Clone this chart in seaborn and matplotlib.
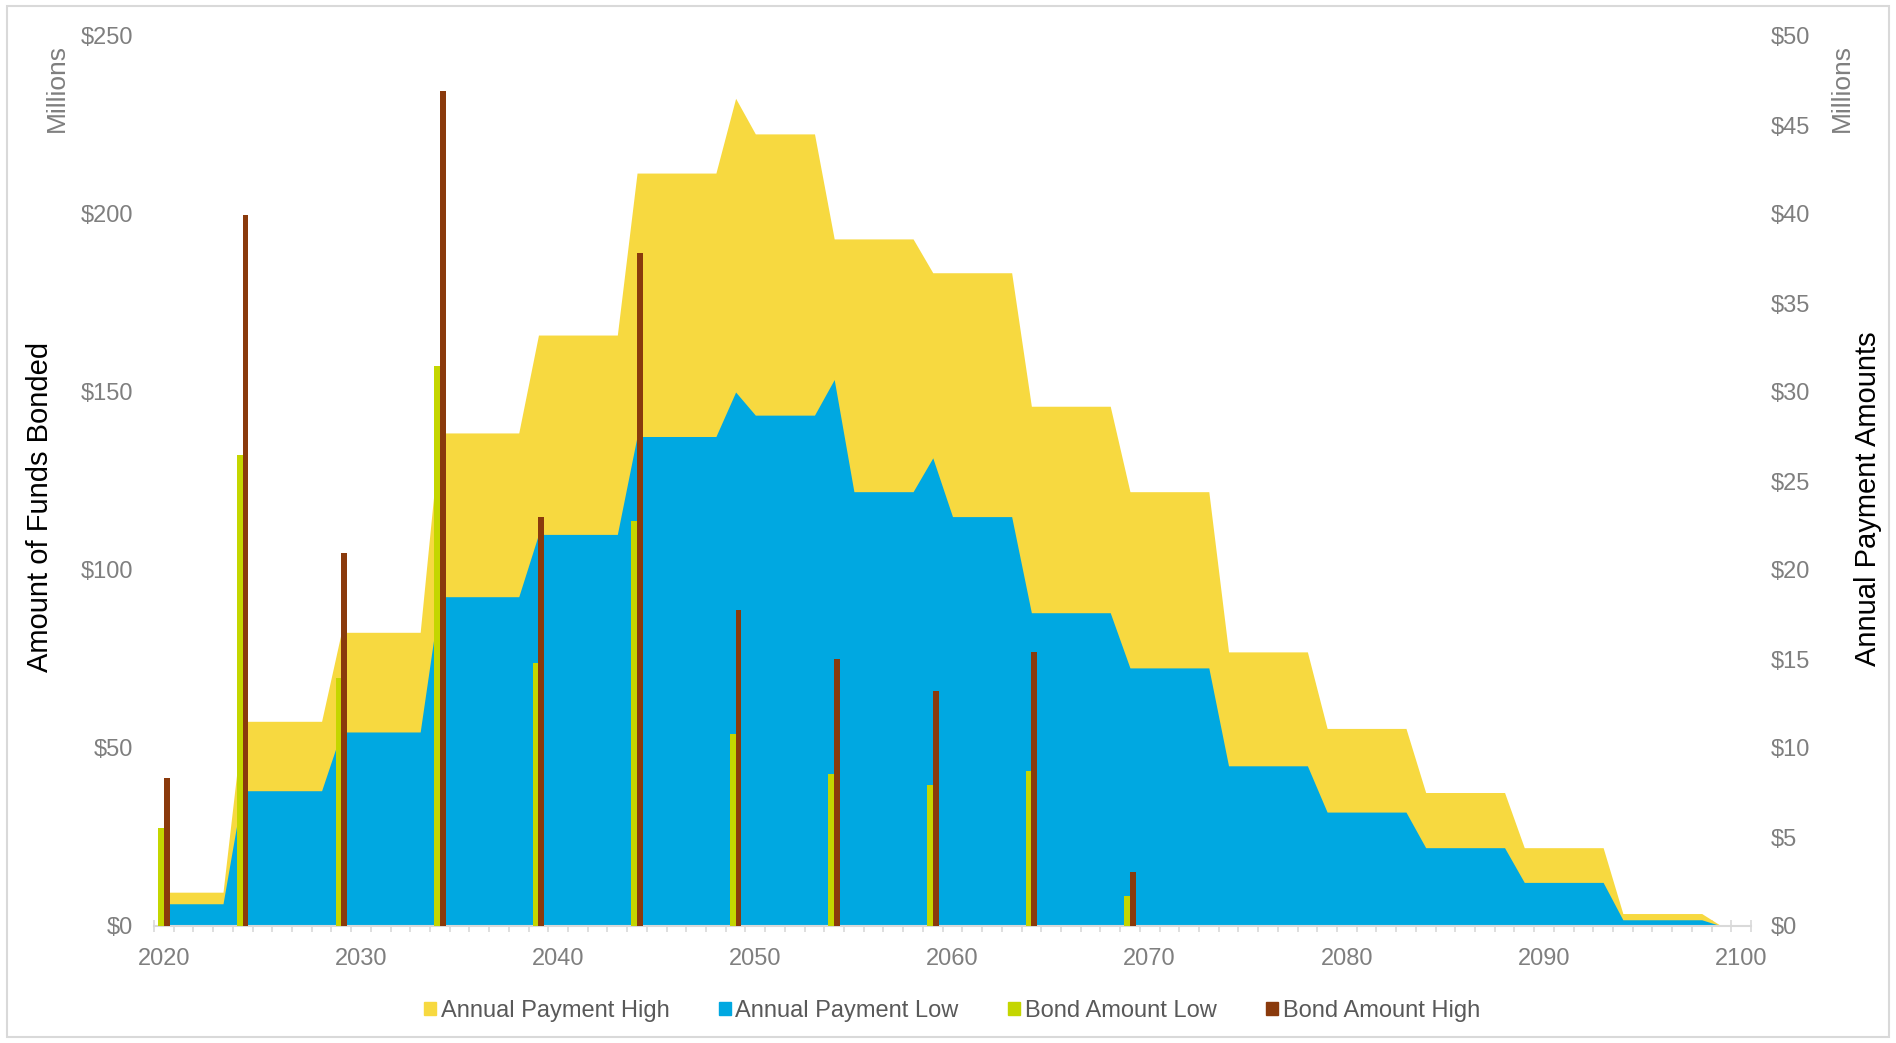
import matplotlib
matplotlib.use("Agg")
import matplotlib.pyplot as plt
import numpy as np
import pandas as pd
import seaborn as sns
from matplotlib.patches import Patch, Rectangle
from matplotlib.ticker import FixedLocator, FixedFormatter, NullFormatter

sns.set_style("white")
plt.rcParams["font.family"] = ["Liberation Sans", "DejaVu Sans"]

# ---- data -------------------------------------------------------------
axis_years = list(range(2020, 2101))          # category axis 2020..2100
x_tick_labels = ["2020", "2030", "2040", "2050", "2060", "2070", "2080", "2090", "2100"]

# annual payments ($ millions, right axis), 2020..2099
pay_years = list(range(2020, 2100))
pay_high = [
    1.9, 1.9, 1.9, 1.9,
    11.5, 11.5, 11.5, 11.5, 11.5,
    16.5, 16.5, 16.5, 16.5, 16.5,
    27.7, 27.7, 27.7, 27.7, 27.7,
    33.2, 33.2, 33.2, 33.2, 33.2,
    42.3, 42.3, 42.3, 42.3, 42.3,
    46.5,
    44.5, 44.5, 44.5, 44.5,
    38.6, 38.6, 38.6, 38.6, 38.6,
    36.7, 36.7, 36.7, 36.7, 36.7,
    29.2, 29.2, 29.2, 29.2, 29.2,
    24.4, 24.4, 24.4, 24.4, 24.4,
    15.4, 15.4, 15.4, 15.4, 15.4,
    11.1, 11.1, 11.1, 11.1, 11.1,
    7.5, 7.5, 7.5, 7.5, 7.5,
    4.4, 4.4, 4.4, 4.4, 4.4,
    0.7, 0.7, 0.7, 0.7, 0.7,
    0.0,
]
pay_low = [
    1.25, 1.25, 1.25, 1.25,
    7.6, 7.6, 7.6, 7.6, 7.6,
    10.9, 10.9, 10.9, 10.9, 10.9,
    18.5, 18.5, 18.5, 18.5, 18.5,
    22.0, 22.0, 22.0, 22.0, 22.0,
    27.5, 27.5, 27.5, 27.5, 27.5,
    30.0,
    28.7, 28.7, 28.7, 28.7,
    30.7,
    24.4, 24.4, 24.4, 24.4,
    26.3,
    23.0, 23.0, 23.0, 23.0,
    17.6, 17.6, 17.6, 17.6, 17.6,
    14.5, 14.5, 14.5, 14.5, 14.5,
    9.0, 9.0, 9.0, 9.0, 9.0,
    6.4, 6.4, 6.4, 6.4, 6.4,
    4.4, 4.4, 4.4, 4.4, 4.4,
    2.45, 2.45, 2.45, 2.45, 2.45,
    0.35, 0.35, 0.35, 0.35, 0.35,
    0.0,
]

# bond issues ($ millions, left axis)
bond_years = [2020, 2024, 2029, 2034, 2039, 2044, 2049, 2054, 2059, 2064, 2069]
bond_low = [27.6, 132.4, 69.6, 157.3, 73.8, 113.8, 54.0, 42.8, 39.7, 43.4, 8.5]
bond_high = [41.7, 199.6, 104.9, 234.6, 114.8, 189.1, 88.7, 74.9, 66.0, 76.9, 15.2]

left_ticks = [0, 50, 100, 150, 200, 250]
left_labels = ["$0", "$50", "$100", "$150", "$200", "$250"]
right_ticks = [0, 5, 10, 15, 20, 25, 30, 35, 40, 45, 50]
right_labels = ["$0", "$5", "$10", "$15", "$20", "$25", "$30", "$35", "$40", "$45", "$50"]
grid_right = [0, 10, 20, 30, 40, 50]

YELLOW = "#F7D940"
BLUE = "#00A8E1"
GREEN = "#C4D600"
BROWN = "#8A3A0C"
GRAY = "#7F7F7F"
LIGHT = "#D9D9D9"

# ---- figure -----------------------------------------------------------
W, H = 1896, 1043
fig = plt.figure(figsize=(W / 100, H / 100), dpi=100)
ax = fig.add_axes([154 / W, 1 - 926 / H, (1751 - 154) / W, (926 - 36) / H])
ax2 = ax.twinx()

# payment areas (drawn underneath, right-hand scale)
x_pay = [y - axis_years[0] for y in pay_years]
ax.fill_between(x_pay, pay_high, 0, color=YELLOW, lw=0, zorder=1)
ax.fill_between(x_pay, pay_low, 0, color=BLUE, lw=0, zorder=1.1)
ax.set_ylim(0, 50)

# bond columns (on top, left-hand scale)
n = len(bond_years)
df = pd.DataFrame({
    "Year": bond_years * 2,
    "Amount": bond_low + bond_high,
    "Series": ["Bond Amount Low"] * n + ["Bond Amount High"] * n,
})
sns.barplot(data=df, x="Year", y="Amount", hue="Series", order=axis_years,
            hue_order=["Bond Amount Low", "Bond Amount High"],
            palette=[GREEN, BROWN], saturation=1, width=0.58, errorbar=None,
            legend=False, linewidth=0, ax=ax2)
ax2.set_ylim(0, 250)
ax2.set_xlabel("")
ax2.set_ylabel("")
ax.set_xlim(-0.5, len(axis_years) - 0.5)

# x axis: tick marks between categories, labels every tenth year
boundaries = np.arange(-0.5, len(axis_years), 1.0)
label_pos = [int(t) - axis_years[0] for t in x_tick_labels]
ax.xaxis.set_major_locator(FixedLocator(boundaries))
ax.xaxis.set_major_formatter(NullFormatter())
ax.xaxis.set_minor_locator(FixedLocator(label_pos))
ax.xaxis.set_minor_formatter(FixedFormatter(x_tick_labels))
ax.tick_params(axis="x", which="major", direction="inout", length=9, width=1.2,
               color=LIGHT, bottom=True)
ax.tick_params(axis="x", which="minor", length=0, pad=15.5, labelsize=17,
               labelcolor=GRAY, bottom=True)

# right axis (payments) on the host axes
ax.yaxis.tick_right()
ax.yaxis.set_major_locator(FixedLocator(right_ticks))
ax.yaxis.set_major_formatter(FixedFormatter(right_labels))
ax.yaxis.set_minor_locator(FixedLocator(grid_right))
ax.tick_params(axis="y", which="both", length=0, pad=14, labelsize=17, labelcolor=GRAY)
ax.grid(True, which="minor", axis="y", color=LIGHT, lw=1.5)
ax.grid(False, which="major")
ax.set_axisbelow(True)

# left axis (bonds) on the twin
ax2.yaxis.tick_left()
ax2.yaxis.set_major_locator(FixedLocator(left_ticks))
ax2.yaxis.set_major_formatter(FixedFormatter(left_labels))
ax2.tick_params(axis="y", length=0, pad=15, labelsize=17, labelcolor=GRAY)
ax2.grid(False)

for s in ["top", "left", "right"]:
    ax.spines[s].set_visible(False)
ax.spines["bottom"].set_color(LIGHT)
ax.spines["bottom"].set_linewidth(1.5)
for s in ax2.spines.values():
    s.set_visible(False)

# titles
fig.text(40 / W, 1 - 507 / H, "Amount of Funds Bonded", rotation=90,
         ha="center", va="center", fontsize=21, color="black")
fig.text(1868 / W, 1 - 499 / H, "Annual Payment Amounts", rotation=90,
         ha="center", va="center", fontsize=21, color="black")
fig.text(57 / W, 1 - 88 / H, "Millions", rotation=90, ha="center", va="center",
         fontsize=19, color=GRAY)
fig.text(1842 / W, 1 - 88 / H, "Millions", rotation=90, ha="center", va="center",
         fontsize=19, color=GRAY)

# legend
handles = [Patch(color=YELLOW), Patch(color=BLUE), Patch(color=GREEN), Patch(color=BROWN)]
labels = ["Annual Payment High", "Annual Payment Low", "Bond Amount Low", "Bond Amount High"]
fig.legend(handles, labels, loc="center", bbox_to_anchor=(952 / W, 1 - 1011 / H),
           ncol=4, frameon=False, fontsize=17, handlelength=0.5, handleheight=0.5,
           handletextpad=0.2, columnspacing=2.1, labelcolor="#595959")

# chart border
fig.add_artist(Rectangle((7 / W, 6 / H), (1889 - 7) / W, (1037 - 6) / H,
                         transform=fig.transFigure, fill=False, ec=LIGHT, lw=1.5))

fig.savefig("out.png", dpi=100)
